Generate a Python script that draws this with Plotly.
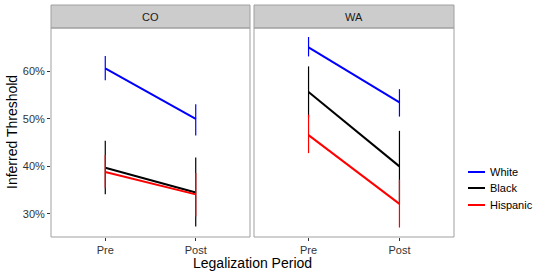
import plotly.graph_objects as go

periods = ["Pre", "Post"]
states = ["CO", "WA"]
groups = ["White", "Black", "Hispanic"]
colors = {"White": "#0000FF", "Black": "#000000", "Hispanic": "#FF0000"}

# threshold (%) and upper / lower bounds, per state -> group -> [Pre, Post]
thr = {
    "CO": {"White": [60.7, 50.0], "Black": [39.7, 34.5], "Hispanic": [38.8, 34.1]},
    "WA": {"White": [65.1, 53.5], "Black": [55.7, 40.0], "Hispanic": [46.6, 32.1]},
}
upper = {
    "CO": {"White": [63.3, 53.1], "Black": [45.4, 41.9], "Hispanic": [42.4, 38.6]},
    "WA": {"White": [67.3, 56.3], "Black": [61.1, 47.5], "Hispanic": [50.9, 37.2]},
}
lower = {
    "CO": {"White": [58.2, 46.5], "Black": [34.1, 27.3], "Hispanic": [35.5, 29.4]},
    "WA": {"White": [63.2, 50.5], "Black": [50.3, 32.5], "Hispanic": [42.8, 27.1]},
}
ytick_vals = [30, 40, 50, 60]
ytick_text = ["30%", "40%", "50%", "60%"]

W, H = 545, 273
FONT = "Liberation Sans, Arial, sans-serif"
px = lambda x: x / W
py = lambda y: 1 - y / H

panels = [(51, 250), (254, 454)]
top, bottom, strip_top = 28, 237, 5

fig = go.Figure()
for i, st in enumerate(states):
    xa = "x" if i == 0 else "x2"
    ya = "y" if i == 0 else "y2"
    for g in groups:
        v = thr[st][g]
        up = [u - a for u, a in zip(upper[st][g], v)]
        lo = [a - l for l, a in zip(lower[st][g], v)]
        fig.add_trace(go.Scatter(
            x=periods, y=v, mode="lines", name=g, xaxis=xa, yaxis=ya,
            line=dict(color=colors[g], width=2),
            error_y=dict(type="data", array=up, arrayminus=lo, symmetric=False,
                         color=colors[g], thickness=1.2, width=0),
            showlegend=False,
        ))

yrange = [25.1, 69.2]
axis_common = dict(showgrid=False, zeroline=False, showline=False, mirror=False)
for i, (x0, x1) in enumerate(panels):
    sfx = "" if i == 0 else "2"
    fig.update_layout(**{
        f"xaxis{sfx}": dict(domain=[px(x0), px(x1)], anchor=f"y{sfx}", type="category",
                            categoryorder="array", categoryarray=periods,
                            range=[-0.6, 1.6], ticks="outside", ticklen=3, tickcolor="#333333",
                            tickfont=dict(family=FONT, size=11, color="#333333"), **axis_common),
        f"yaxis{sfx}": dict(domain=[py(bottom), py(top)], anchor=f"x{sfx}", range=yrange,
                            tickvals=ytick_vals, ticktext=ytick_text,
                            ticks="outside" if i == 0 else "", ticklen=3, tickcolor="#333333",
                            showticklabels=(i == 0),
                            tickfont=dict(family=FONT, size=11, color="#333333"), **axis_common),
    })

shapes = []
annotations = []
for i, (x0, x1) in enumerate(panels):
    shapes.append(dict(type="rect", xref="paper", yref="paper", x0=px(x0), x1=px(x1),
                       y0=py(bottom), y1=py(top), line=dict(color="#A0A0A0", width=1),
                       fillcolor="rgba(0,0,0,0)", layer="above"))
    shapes.append(dict(type="rect", xref="paper", yref="paper", x0=px(x0), x1=px(x1),
                       y0=py(top), y1=py(strip_top), line=dict(color="#A0A0A0", width=1),
                       fillcolor="#CCCCCC", layer="below"))
    annotations.append(dict(text=states[i], xref="paper", yref="paper",
                            x=px((x0 + x1) / 2), y=py((top + strip_top) / 2),
                            showarrow=False, xanchor="center", yanchor="middle",
                            font=dict(family=FONT, size=11, color="#1A1A1A")))

annotations.append(dict(text="Legalization Period", xref="paper", yref="paper",
                        x=px(252), y=py(263), showarrow=False, xanchor="center", yanchor="middle",
                        font=dict(family=FONT, size=14, color="#000000")))
annotations.append(dict(text="Inferred Threshold", xref="paper", yref="paper",
                        x=px(12), y=py(132), showarrow=False, xanchor="center", yanchor="middle",
                        textangle=-90, font=dict(family=FONT, size=14, color="#000000")))

leg_y = [172, 188, 205]
for g, yy in zip(groups, leg_y):
    shapes.append(dict(type="line", xref="paper", yref="paper", x0=px(468), x1=px(485),
                       y0=py(yy), y1=py(yy), line=dict(color=colors[g], width=2)))
    annotations.append(dict(text=g, xref="paper", yref="paper", x=px(488), y=py(yy),
                            showarrow=False, xanchor="left", yanchor="middle",
                            font=dict(family=FONT, size=11, color="#000000")))

fig.update_layout(width=W, height=H, margin=dict(l=0, r=0, t=0, b=0),
                  paper_bgcolor="white", plot_bgcolor="white",
                  shapes=shapes, annotations=annotations, showlegend=False)

fig.write_html("out.html", config={"displayModeBar": False},
               post_script="document.body.style.margin='0';document.body.style.overflow='hidden';")
